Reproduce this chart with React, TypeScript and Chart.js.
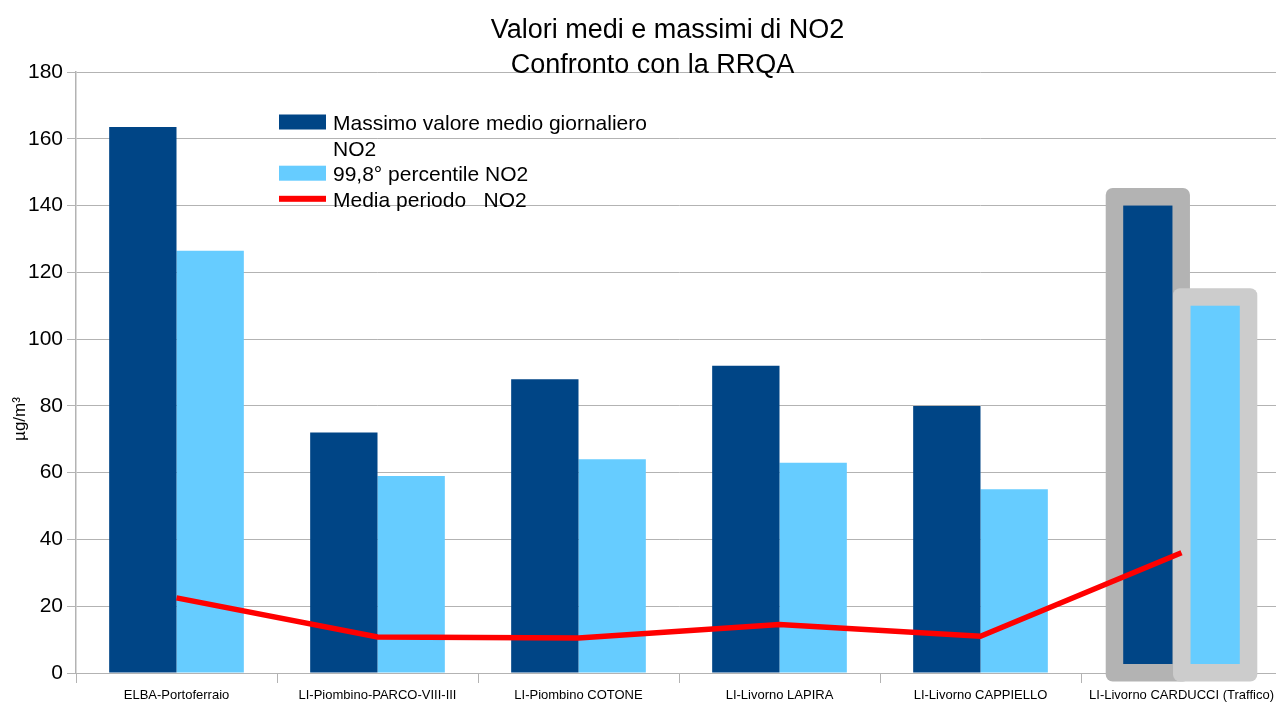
import React, { useEffect, useRef } from "react";
import { Chart, registerables } from "chart.js";

Chart.register(...registerables);

const categories = [
  "ELBA-Portoferraio",
  "LI-Piombino-PARCO-VIII-III",
  "LI-Piombino COTONE",
  "LI-Livorno LAPIRA",
  "LI-Livorno CAPPIELLO",
  "LI-Livorno CARDUCCI (Traffico)",
];
const maxDailyMean = [163.5, 72, 88, 92, 80, 140];
const percentile998 = [126.5, 59, 64, 63, 55, 110];
const periodMean = [22.5, 10.8, 10.5, 14.5, 11, 36];
const yTicks = [0, 20, 40, 60, 80, 100, 120, 140, 160, 180];

const titleLines = ["Valori medi e massimi di NO2", "Confronto con la RRQA"];
const legendLabels = [
  ["Massimo valore medio giornaliero", "NO2"],
  ["99,8° percentile NO2"],
  ["Media periodo   NO2"],
];
const yAxisTitle = "µg/m³";

const DARK = "#004586";
const LIGHT = "#66ccff";
const RED = "#ff0000";
const FONT = '"Liberation Sans", Arial, sans-serif';

const highlightPlugin = {
  id: "highlightLast",
  beforeDatasetDraw(chart: any, args: any) {
    const ds = chart.data.datasets[args.index];
    if (ds.type !== "line") return;
    const ctx = chart.ctx;
    const yScale = chart.scales.y;
    const last = categories.length - 1;
    const boxes = [
      { dsIndex: 0, grey: "#b3b3b3", fill: DARK },
      { dsIndex: 1, grey: "#cccccc", fill: LIGHT },
    ];
    ctx.save();
    for (const b of boxes) {
      const meta = chart.getDatasetMeta(b.dsIndex);
      const el: any = meta.data[last];
      if (!el) continue;
      const w = el.width;
      const innerW = (w * 49) / 67;
      const cx = el.x;
      const border = 17.5;
      const innerTop = el.y;
      const innerBottom = yScale.getPixelForValue(0) - 9;
      const ox = cx - innerW / 2 - border;
      const oy = innerTop - border;
      const ow = innerW + 2 * border;
      const oh = innerBottom - innerTop + 2 * border;
      ctx.fillStyle = b.grey;
      ctx.beginPath();
      ctx.roundRect(ox, oy, ow, oh, 7);
      ctx.fill();
      ctx.fillStyle = b.fill;
      ctx.fillRect(cx - innerW / 2, innerTop, innerW, innerBottom - innerTop);
    }
    ctx.restore();
  },
};

const textPlugin = {
  id: "customText",
  afterDraw(chart: any) {
    const ctx = chart.ctx;
    ctx.save();
    // Title
    ctx.fillStyle = "#000";
    ctx.textAlign = "center";
    ctx.textBaseline = "alphabetic";
    ctx.font = `27px ${FONT}`;
    const titlePos = [
      { x: 667.5, y: 37.5 },
      { x: 652.5, y: 72.5 },
    ];
    titleLines.forEach((t, i) => {
      ctx.fillText(t, titlePos[i].x, titlePos[i].y);
    });

    // Y axis title
    ctx.save();
    ctx.translate(25, 419);
    ctx.rotate(-Math.PI / 2);
    ctx.font = `17px ${FONT}`;
    ctx.textAlign = "center";
    ctx.textBaseline = "alphabetic";
    ctx.fillText(yAxisTitle, 0, 0);
    ctx.restore();

    // Legend
    const lx = 279;
    const tx = 333;
    const lineH = 25.6;
    let baseline = 130;
    ctx.font = `21px ${FONT}`;
    ctx.textAlign = "left";
    ctx.textBaseline = "alphabetic";
    const markers = [
      { kind: "box", color: DARK },
      { kind: "box", color: LIGHT },
      { kind: "line", color: RED },
    ];
    legendLabels.forEach((lines, i) => {
      const m = markers[i];
      const midY = baseline - 8;
      ctx.fillStyle = m.color;
      if (m.kind === "box") {
        ctx.fillRect(lx, midY - 7.5, 47, 15);
      } else {
        ctx.fillRect(lx, midY - 3, 47, 6);
      }
      ctx.fillStyle = "#000";
      lines.forEach((l) => {
        ctx.fillText(l, tx, baseline);
        baseline += lineH;
      });
    });
    ctx.restore();
  },
};

export default function App() {
  const canvasRef = useRef<HTMLCanvasElement | null>(null);

  useEffect(() => {
    document.body.style.margin = "0";
    const canvas = canvasRef.current;
    if (!canvas) return;
    Chart.defaults.font.family = FONT;
    const chart = new Chart(canvas, {
      type: "bar",
      data: {
        labels: categories,
        datasets: [
          {
            type: "bar",
            label: legendLabels[0].join(" "),
            data: maxDailyMean,
            backgroundColor: DARK,
            categoryPercentage: 0.67,
            barPercentage: 1,
            order: 1,
          },
          {
            type: "bar",
            label: legendLabels[1][0],
            data: percentile998,
            backgroundColor: LIGHT,
            categoryPercentage: 0.67,
            barPercentage: 1,
            order: 1,
          },
          {
            type: "line",
            label: legendLabels[2][0],
            data: periodMean,
            borderColor: RED,
            backgroundColor: RED,
            borderWidth: 5.5,
            pointRadius: 0,
            tension: 0,
            order: 0,
          } as any,
        ],
      },
      options: {
        responsive: false,
        animation: false,
        layout: { padding: { top: 72, right: 0, left: 0, bottom: 0 } },
        plugins: {
          legend: { display: false },
          title: { display: false },
          tooltip: { enabled: false },
        },
        scales: {
          x: {
            offset: true,
            grid: {
              offset: true,
              drawOnChartArea: false,
              drawTicks: true,
              tickLength: 10,
              color: "#b3b3b3",
            },
            border: { color: "#b3b3b3", width: 1 },
            ticks: {
              color: "#000",
              font: { size: 13, family: FONT },
              padding: 5,
              maxRotation: 0,
              autoSkip: false,
            },
            afterFit(scale: any) {
              scale.height = 33;
            },
          },
          y: {
            min: 0,
            max: 180,
            afterBuildTicks(scale: any) {
              scale.ticks = yTicks.map((v) => ({ value: v }));
            },
            grid: {
              color: "#b3b3b3",
              tickLength: 9,
              drawTicks: true,
            },
            border: { color: "#b3b3b3", width: 1.5 },
            ticks: {
              color: "#000",
              font: { size: 21, family: FONT },
              padding: 4,
            },
            afterFit(scale: any) {
              scale.width = 76;
            },
          },
        },
      },
      plugins: [highlightPlugin, textPlugin],
    });
    return () => chart.destroy();
  }, []);

  return (
    <div style={{ width: 1276, height: 706, position: "relative", overflow: "hidden" }}>
      <canvas ref={canvasRef} width={1282} height={706} style={{ display: "block" }} />
    </div>
  );
}
